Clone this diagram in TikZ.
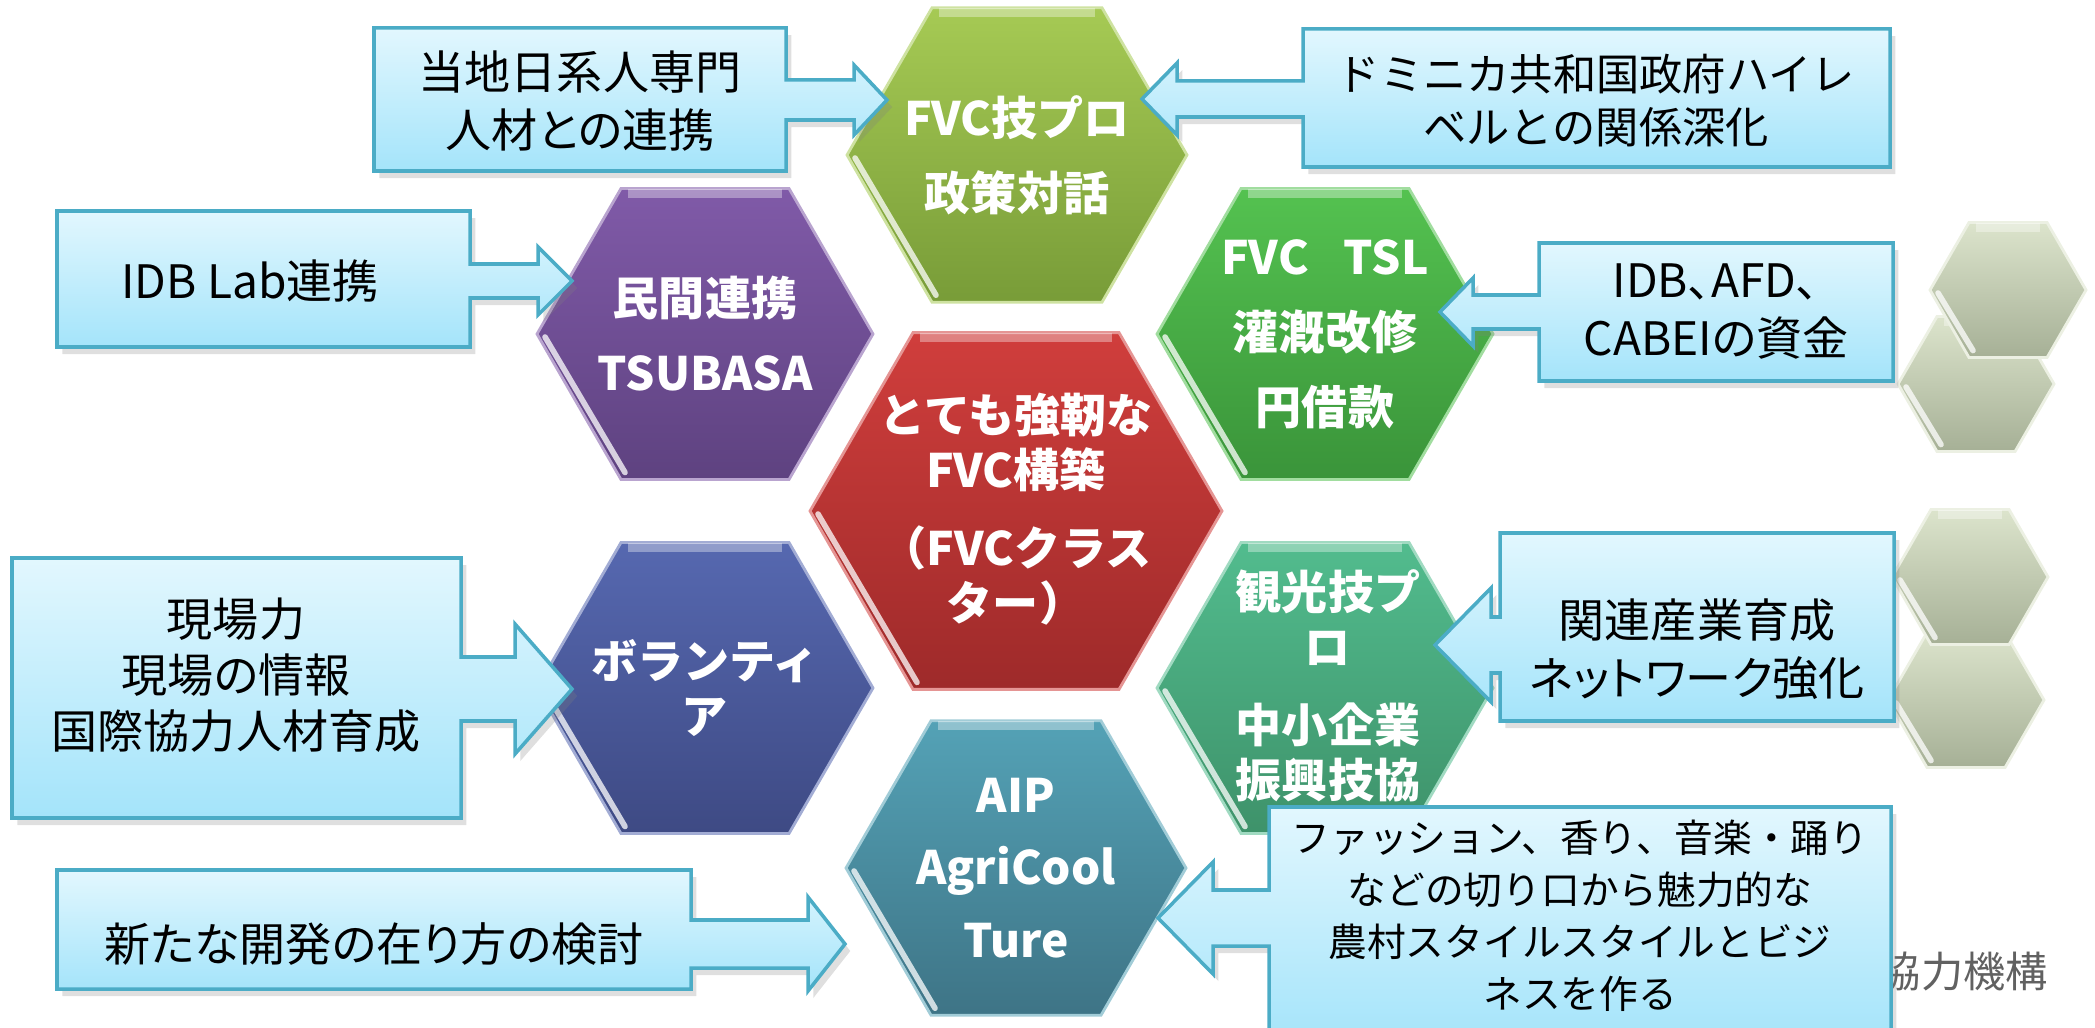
\documentclass[tikz,border=0pt]{standalone}
\usepackage{fontspec}
\setmainfont{Noto Sans CJK JP}
\newfontfamily\boxfont{Noto Sans CJK JP}[RawFeature=+palt]
\usetikzlibrary{shadows}

\definecolor{oliveT}{RGB}{166,202,84}
\definecolor{oliveB}{RGB}{120,156,56}
\definecolor{purpT}{RGB}{128,90,168}
\definecolor{purpB}{RGB}{94,66,128}
\definecolor{grnT}{RGB}{84,194,80}
\definecolor{grnB}{RGB}{58,148,58}
\definecolor{redT}{RGB}{208,62,60}
\definecolor{redB}{RGB}{158,42,42}
\definecolor{bluT}{RGB}{86,104,176}
\definecolor{bluB}{RGB}{62,74,132}
\definecolor{tealT}{RGB}{82,188,142}
\definecolor{tealB}{RGB}{62,146,106}
\definecolor{aipT}{RGB}{84,162,182}
\definecolor{aipB}{RGB}{62,116,134}
\definecolor{gryT}{RGB}{220,228,204}
\definecolor{gryB}{RGB}{166,176,150}
\definecolor{boxT}{RGB}{226,247,254}
\definecolor{boxB}{RGB}{164,228,250}
\definecolor{boxline}{RGB}{75,172,198}

\begin{document}
\begin{tikzpicture}[x=0.01cm,y=-0.01cm,
    hextext/.style={text=white,align=center,font=\fontsize{13.1}{15.6}\selectfont\bfseries},
    boxtext/.style={align=center,font=\boxfont\fontsize{13.1}{16.5}\selectfont},
    callout/.style={draw=boxline,line width=1pt,line join=miter,top color=boxT,bottom color=boxB,
      drop shadow={shadow xshift=1.5pt,shadow yshift=-2pt,opacity=.25}}]
    \useasboundingbox (0,0) rectangle (2095,1028);

    % hexagons
    \foreach \cx/\cy/\r/\ct/\cb in {1017/155/170/oliveT/oliveB, 705/334/168/purpT/purpB,
        1325/334/168/grnT/grnB, 1016/511/206/redT/redB, 705/688/168/bluT/bluB,
        1325/688/168/tealT/tealB, 1016/868/170/aipT/aipB,
        1976/384/78/gryT/gryB, 2008/290/78/gryT/gryB, 1966/700/78/gryT/gryB, 1970/577/78/gryT/gryB}{
        \shadedraw [top color=\ct, bottom color=\cb, draw=\ct!55!white, line width=.8pt]
            (\cx,\cy) +(0:\r) -- +(60:\r) -- +(120:\r) -- +(180:\r) -- +(240:\r) -- +(300:\r) -- cycle;
        \draw [white, opacity=.75, line width=1.6pt, line cap=round]
            (\cx-\r+8,\cy+3) -- (\cx-\r/2+4,\cy+0.866*\r-7);
        \draw [white, opacity=.35, line width=2.5pt]
            (\cx-\r/2+7,\cy-0.866*\r+5) -- (\cx+\r/2-7,\cy-0.866*\r+5);
    }

    \node (fvc) [hextext] at (1017,155) {FVC技プロ\\[5.7pt]政策対話};
    \node (minkan) [hextext] at (705,334) {民間連携\\[5.7pt]TSUBASA};
    \node (tsl) [hextext] at (1325,334) {FVC\hspace{0.75em}TSL\\[5.7pt]灌漑改修\\[5.7pt]円借款};
    \node (core) [hextext] at (1016,509) {とても強靭な\\FVC構築\\[6.5pt]（FVCクラス\\ター）};
    \node (volun) [hextext] at (705,688) {ボランティ\\ア};
    \node (kanko) [hextext] at (1328,686) {観光技プ\\ロ\\[6.5pt]中小企業\\振興技協};
    \node (aip) [hextext] at (1016,868) {AIP\\[5pt]AgriCool\\[5pt]Ture};

    \node (kyoryoku) [anchor=east, text=black!62, font=\fontsize{12}{14}\selectfont] at (2060,972) {協力機構};

    % callouts
    \path [callout] (374,28) -- (786,28) -- (786,80) -- (854,80) -- (854,65) -- (887,100)
        -- (854,135) -- (854,120) -- (786,120) -- (786,171) -- (374,171) -- cycle;
    \path [callout] (1303,29) -- (1890,29) -- (1890,167) -- (1303,167) -- (1303,117) -- (1177,117)
        -- (1177,135) -- (1142,99) -- (1177,63) -- (1177,81) -- (1303,81) -- cycle;
    \path [callout] (57,211) -- (470,211) -- (470,264) -- (538,264) -- (538,247) -- (572,281)
        -- (538,315) -- (538,298) -- (470,298) -- (470,347) -- (57,347) -- cycle;
    \path [callout] (1539,243) -- (1893,243) -- (1893,381) -- (1539,381) -- (1539,329) -- (1473,329)
        -- (1473,346) -- (1440,312) -- (1473,278) -- (1473,295) -- (1539,295) -- cycle;
    \path [callout] (12,558) -- (461,558) -- (461,657) -- (515,657) -- (515,624) -- (572,689)
        -- (515,754) -- (515,721) -- (461,721) -- (461,818) -- (12,818) -- cycle;
    \path [callout] (1500,533) -- (1894,533) -- (1894,721) -- (1500,721) -- (1500,673) -- (1491,673)
        -- (1491,702) -- (1435,645) -- (1491,588) -- (1491,617) -- (1500,617) -- cycle;
    \path [callout] (57,870) -- (691,870) -- (691,920) -- (808,920) -- (808,897) -- (845,944)
        -- (808,991) -- (808,968) -- (691,968) -- (691,989) -- (57,989) -- cycle;
    \path [callout] (1269,807) -- (1891,807) -- (1891,1045) -- (1269,1045) -- (1269,946) -- (1213,946)
        -- (1213,974) -- (1158,918) -- (1213,862) -- (1213,890) -- (1269,890) -- cycle;

    \node (nikkei) [boxtext] at (580,101) {当地日系人専門\\人材との連携};
    \node (dominica) [boxtext, font=\fontsize{12.3}{15.1}\selectfont] at (1596,101) {ドミニカ共和国政府ハイレ\\ベルとの関係深化};
    \node (idblab) [boxtext] at (250,281) {IDB Lab連携};
    \node (fund) [boxtext] at (1716,312) {IDB、AFD、\\CABEIの資金};
    \node (genba) [boxtext, font=\boxfont\fontsize{13.1}{15.9}\selectfont] at (236,675) {現場力\\現場の情報\\国際協力人材育成};
    \node (kanren) [boxtext] at (1697,649) {関連産業育成\\ネットワーク強化};
    \node (kento) [boxtext] at (374,944) {新たな開発の在り方の検討};
    \node (fashion) [boxtext, font=\fontsize{11}{14.8}\selectfont] at (1580,916)
        {ファッション、香り、音楽・踊り\\などの切り口から魅力的な\\農村スタイルスタイルとビジ\\ネスを作る};
\end{tikzpicture}
\end{document}
